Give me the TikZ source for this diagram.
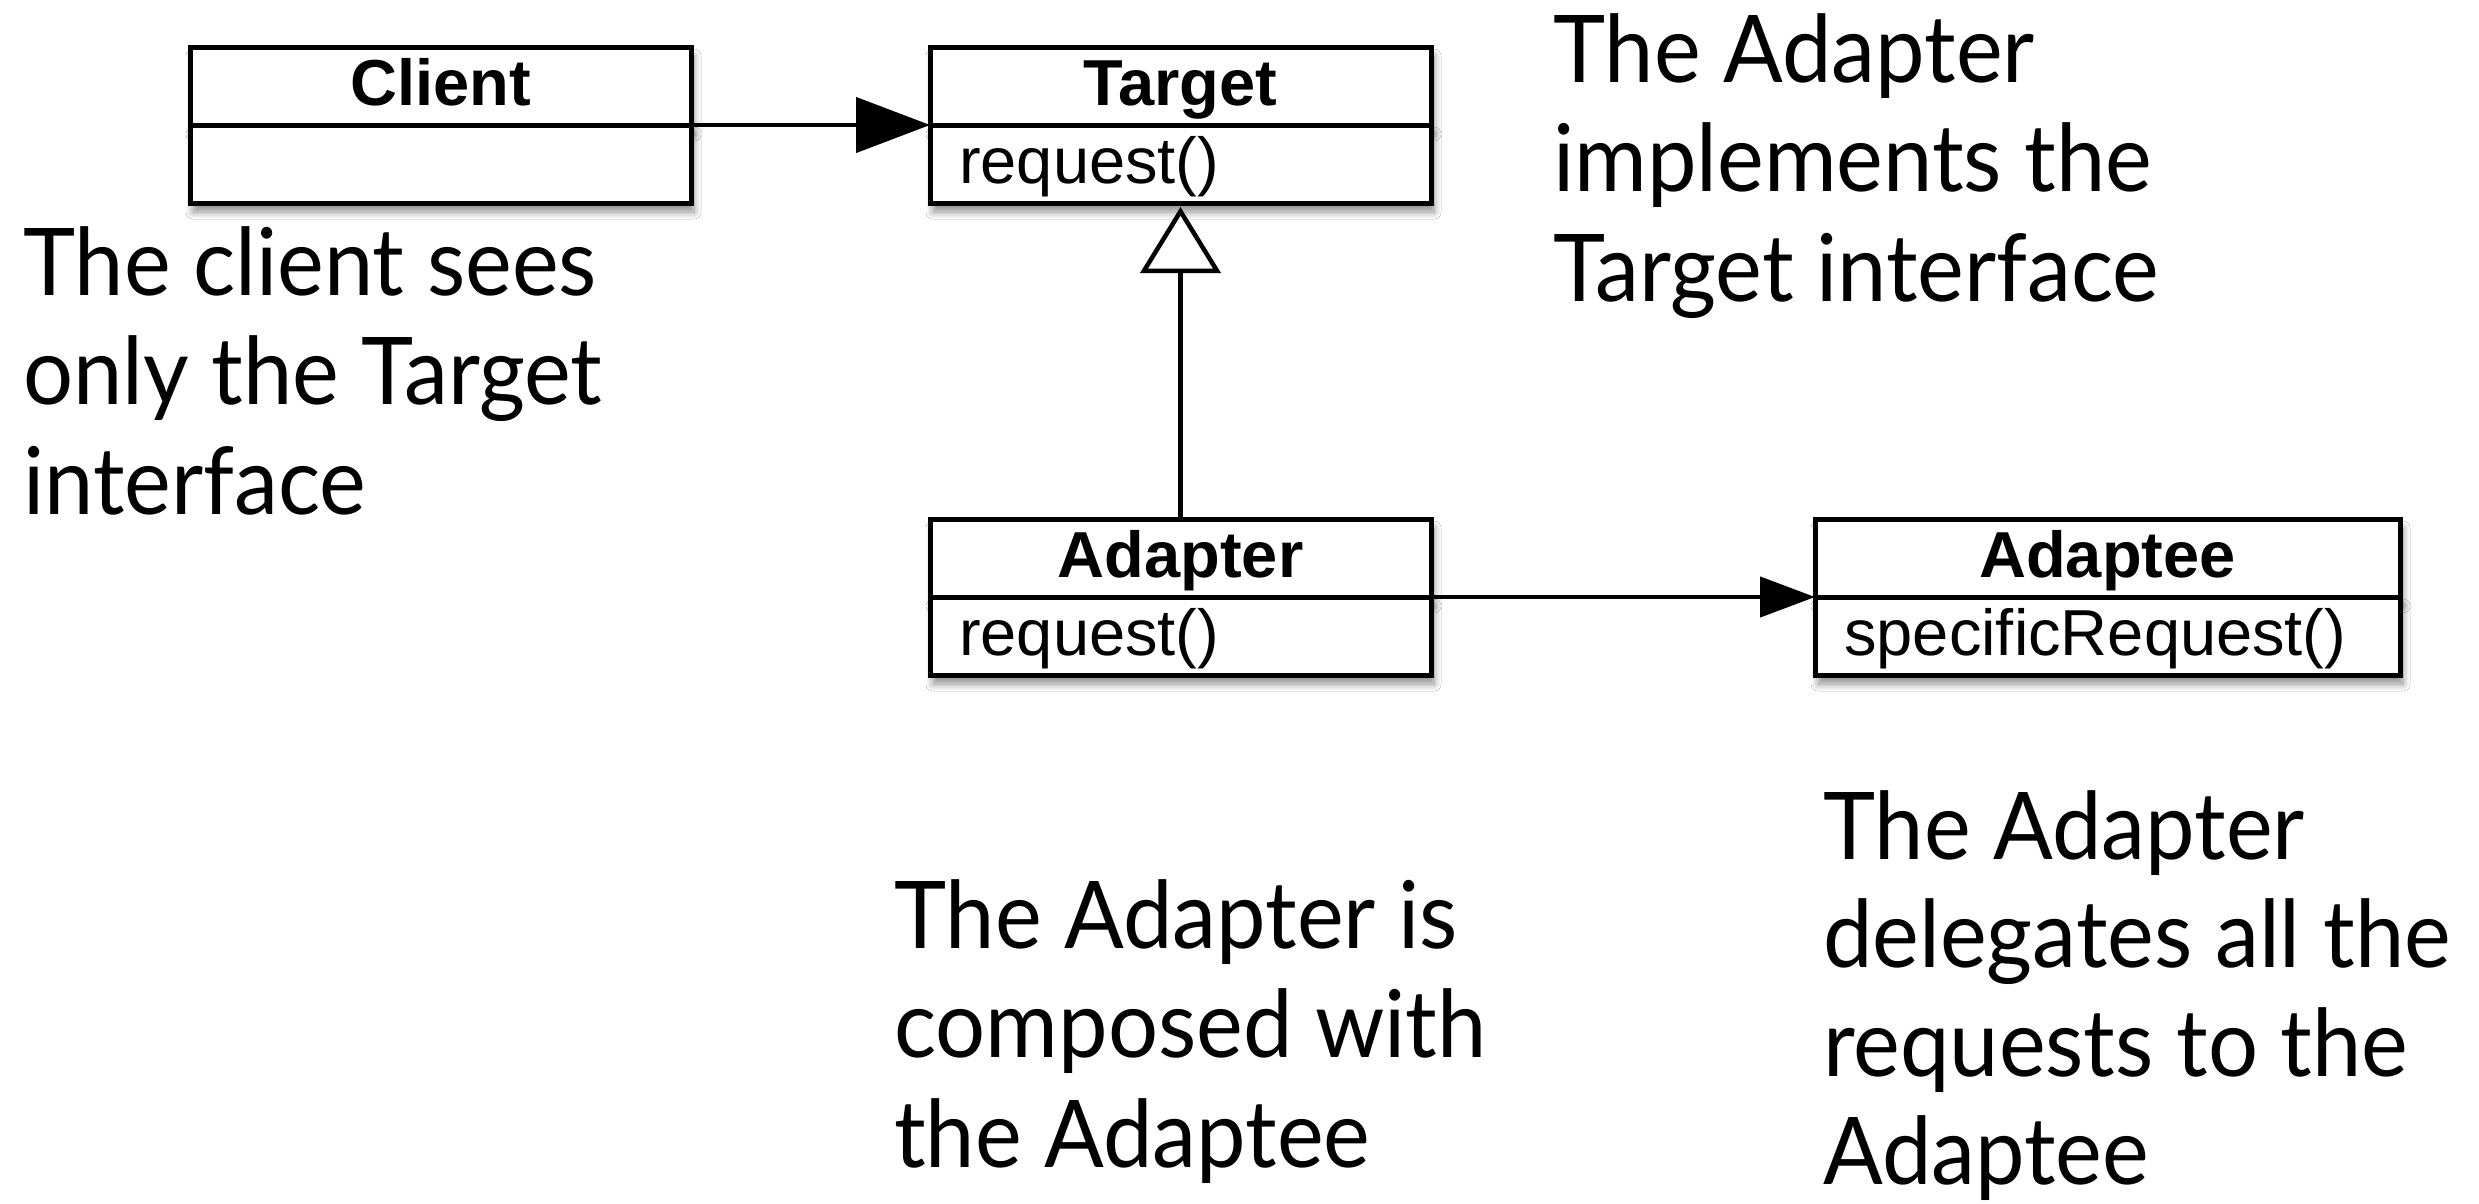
\documentclass[tikz,border=0pt]{standalone}
\usepackage{fontspec}
\setmainfont{Liberation Sans}
\newfontfamily\notefont[FakeStretch=0.945]{Lato}
\usetikzlibrary{arrows.meta,shadows.blur}
\newcommand{\notelines}[2][109.5]{\fontsize{93.5}{#1}\selectfont\begin{tabular}[t]{@{}l@{}}#2\end{tabular}}
\begin{document}
\begin{tikzpicture}[x=1pt,y=-1pt,
  comp/.style={draw, line width=5pt, fill=white, inner sep=0pt, outer sep=0pt,
    minimum height=78pt,
    blur shadow={shadow xshift=3pt, shadow yshift=-9pt, shadow blur radius=7pt,
      shadow blur steps=10, shadow opacity=45}},
  title/.style={font=\fontsize{65}{70}\selectfont\bfseries, inner sep=0pt, anchor=base},
  method/.style={font=\fontsize{65}{70}\selectfont, inner sep=0pt, anchor=base west},
  conn/.style={draw, line width=4.5pt},
  note/.style={font=\notefont, inner sep=0pt, anchor=base west}
]
\path[use as bounding box, fill=white] (0,0) rectangle (2479,1203);

% Client
\node[comp, minimum width=501pt] (client-top) at (440.5,86) {};
\node[comp, minimum width=501pt, anchor=north] (client-bot) at (client-top.south) {};
\node[title] (client-name) at ([yshift=-58pt]client-top.north) {Client};

% Target
\node[comp, minimum width=501pt] (target-top) at (1180.5,86) {};
\node[comp, minimum width=501pt, anchor=north] (target-bot) at (target-top.south) {};
\node[title] (target-name) at ([yshift=-58pt]target-top.north) {Target};
\node[method] (target-op) at ([xshift=29pt,yshift=-58pt]target-bot.north west) {request()};

% Adapter
\node[comp, minimum width=501pt] (adapter-top) at (1180.5,558) {};
\node[comp, minimum width=501pt, anchor=north] (adapter-bot) at (adapter-top.south) {};
\node[title] (adapter-name) at ([yshift=-58pt]adapter-top.north) {Adapter};
\node[method] (adapter-op) at ([xshift=29pt,yshift=-58pt]adapter-bot.north west) {request()};

% Adaptee
\node[comp, minimum width=585pt] (adaptee-top) at (2107.5,558) {};
\node[comp, minimum width=585pt, anchor=north] (adaptee-bot) at (adaptee-top.south) {};
\node[title] (adaptee-name) at ([yshift=-58pt]adaptee-top.north) {Adaptee};
\node[method] (adaptee-op) at ([xshift=29pt,yshift=-58pt]adaptee-bot.north west) {specificRequest()};

% Connectors
\draw[conn, -{Triangle[length=74pt,width=55pt]}] (client-top.south east) -- (target-top.south west);
\draw[conn, -{Triangle[open,length=66pt,width=80pt,fill=white]}, shorten >=4pt] (adapter-top.north) -- (target-bot.south);
\draw[conn, -{Triangle[length=55pt,width=40pt]}] (adapter-top.south east) -- (adaptee-top.south west);

% Notes
\node[note] (note-client) at (23,295) {\notelines{The client sees\\only the Target\\interface}};
\node[note] (note-target) at (1553,82) {\notelines{The Adapter\\implements the\\Target interface}};
\node[note] (note-composed) at (894,948) {\notelines{The Adapter is\\composed with\\the Adaptee}};
\node[note] (note-delegates) at (1823,859) {\notelines[108.5]{The Adapter\\delegates all the\\requests to the\\Adaptee}};
\end{tikzpicture}
\end{document}
